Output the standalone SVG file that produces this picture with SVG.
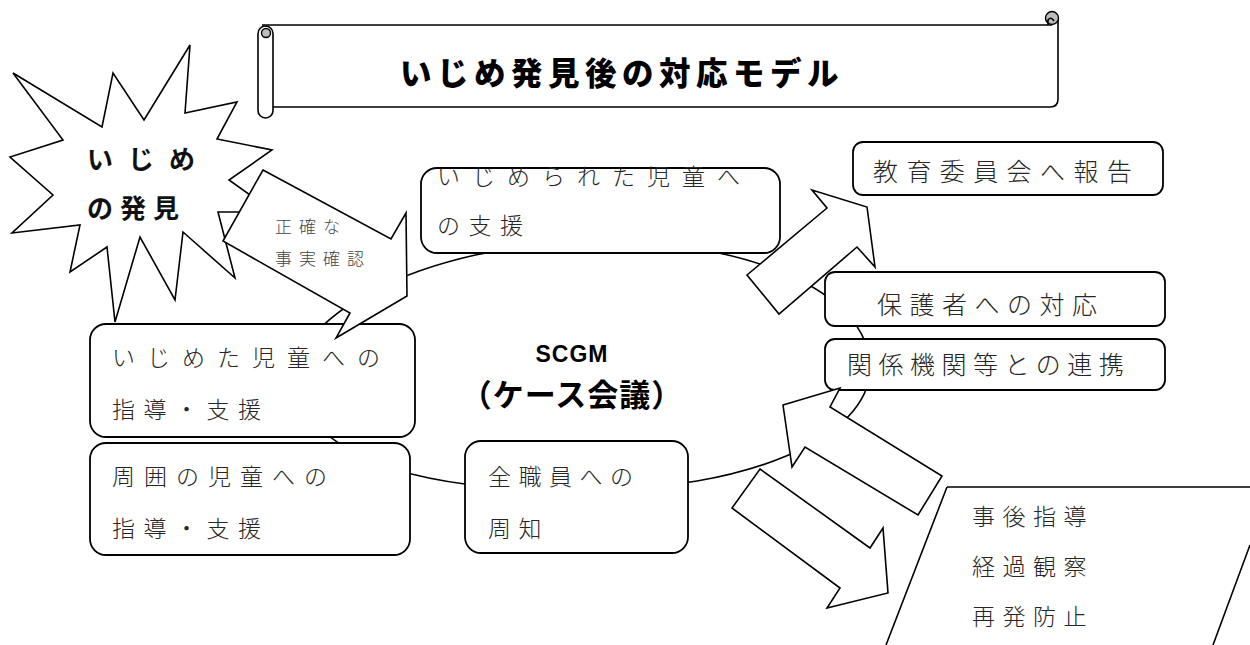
<svg xmlns="http://www.w3.org/2000/svg" width="1250" height="645" viewBox="0 0 1250 645">
<style>
.ln{fill:none;stroke:#000;stroke-width:1.6}
.box{fill:#fff;stroke:#000;stroke-width:1.8}
.arr{fill:#fff;stroke:#000;stroke-width:1.6;stroke-linejoin:miter}
.t{font-family:"Noto Sans CJK JP","Noto Sans CJK SC",sans-serif;font-size:23px;font-weight:300;fill:#262626;dominant-baseline:central}
.b{font-weight:bold;fill:#000}
.curl{fill:#bdbdbd;stroke:#000;stroke-width:1.4}
</style>
<rect width="1250" height="645" fill="#fff"/>

<g id="cycle">
<path class="ln" d="M600,241 C745,241 870,290 870,368 C870,440 740,490 590,490 C470,492 330,478 296,392 C280,320 420,243 600,241 Z"/>
</g>

<g id="title">
<rect x="266" y="25" width="792" height="82" fill="#fff"/>
<path class="ln" d="M262,25 H1052"/>
<path class="ln" d="M1058,18 V99 Q1058,107 1050,107 H272"/>
<circle class="curl" cx="1052" cy="18" r="6.5"/>
<path class="ln" d="M1048,25 V20 Q1051,16 1054,21"/>
<rect x="258" y="26" width="15" height="92" rx="7.5" fill="#fff" stroke="#000" stroke-width="1.6"/>
<circle class="curl" cx="266" cy="33" r="4.5"/>
<text class="t b" x="400" y="71" style="font-size:31.5px;font-weight:900;letter-spacing:5.5px">いじめ発見後の対応モデル</text>
</g>

<g id="bullied-support">
<rect class="box" x="421" y="168" width="359" height="85" rx="16"/>
<text class="t" x="437" y="175" style="letter-spacing:12px">いじめられた児童へ</text>
<text class="t" x="437" y="224" style="letter-spacing:8.5px">の支援</text>
</g>

<g id="bully-guidance">
<rect class="box" x="90" y="324" width="325" height="113" rx="16"/>
<text class="t" x="112" y="356" style="letter-spacing:12px">いじめた児童への</text>
<text class="t" x="112" y="408" style="letter-spacing:8.5px">指導・支援</text>
</g>

<g id="others-guidance">
<rect class="box" x="90" y="443" width="320" height="112" rx="16"/>
<text class="t" x="112" y="475" style="letter-spacing:9px">周囲の児童への</text>
<text class="t" x="112" y="527" style="letter-spacing:8.5px">指導・支援</text>
</g>

<g id="staff-notice">
<rect class="box" x="465" y="441" width="223" height="112" rx="16"/>
<text class="t" x="488" y="475" style="letter-spacing:7.5px">全職員への</text>
<text class="t" x="488" y="527" style="letter-spacing:7.5px">周知</text>
</g>

<g id="scgm">
<text class="t b" x="572" y="354" text-anchor="middle" style="font-family:'Liberation Sans',Arial,sans-serif;font-size:23px;letter-spacing:1px">SCGM</text>
<text class="t b" x="572" y="392" text-anchor="middle" style="font-size:31px;letter-spacing:1px">（ケース会議）</text>
</g>

<g id="board-report">
<rect class="box" x="853" y="142" width="310" height="53" rx="10"/>
<text class="t" x="873" y="170" style="font-size:25px;letter-spacing:8.4px">教育委員会へ報告</text>
</g>

<g id="parents">
<rect class="box" x="825" y="272" width="340" height="54" rx="10"/>
<text class="t" x="877" y="303" style="font-size:25px;letter-spacing:7.5px">保護者への対応</text>
</g>

<g id="agencies">
<rect class="box" x="825" y="339" width="340" height="51" rx="10"/>
<text class="t" x="847" y="363" style="font-size:25px;letter-spacing:6.5px">関係機関等との連携</text>
</g>

<g id="followup">
<path class="ln" d="M947,487 H1250 M947,487 L886,645 M1250,545 L1213,645"/>
<text class="t" x="972" y="515" style="letter-spacing:7.5px">事後指導</text>
<text class="t" x="972" y="565" style="letter-spacing:7.5px">経過観察</text>
<text class="t" x="972" y="615" style="letter-spacing:7.5px">再発防止</text>
</g>

<g id="discovery">
<polygon class="arr" points="13,73 102,127 113,73 144,120 190,45 185,113 237,102 217,139 272,150 229,180 274,212 218,212 235,278 183,232 175,300 140,237 115,322 107,247 70,272 80,225 12,233 53,195 10,157 63,140"/>
<text class="t" x="87" y="157" style="font-size:26px;font-weight:bold;fill:#111;letter-spacing:15px">いじめ</text>
<text class="t" x="87" y="206" style="font-size:26px;font-weight:bold;fill:#111;letter-spacing:7px">の発見</text>
</g>

<g id="connectors">
<polygon class="arr" points="263,170 391,239 406,213 407,296 336,338 350,313 223,241"/>
<polygon class="arr" points="747,275 827,208 812,190 867,207 875,267 857,247 779,314"/>
<polygon class="arr" points="783,405 840,388 830,407 942,476 918,515 805,447 792,467"/>
<polygon class="arr" points="760,469 870,548 883,528 888,593 827,608 840,588 732,508"/>
<text class="t" x="275" y="225" style="font-size:17px;fill:#444;letter-spacing:7px">正確な</text>
<text class="t" x="275" y="257" style="font-size:17px;fill:#444;letter-spacing:7px">事実確認</text>
</g>
</svg>
